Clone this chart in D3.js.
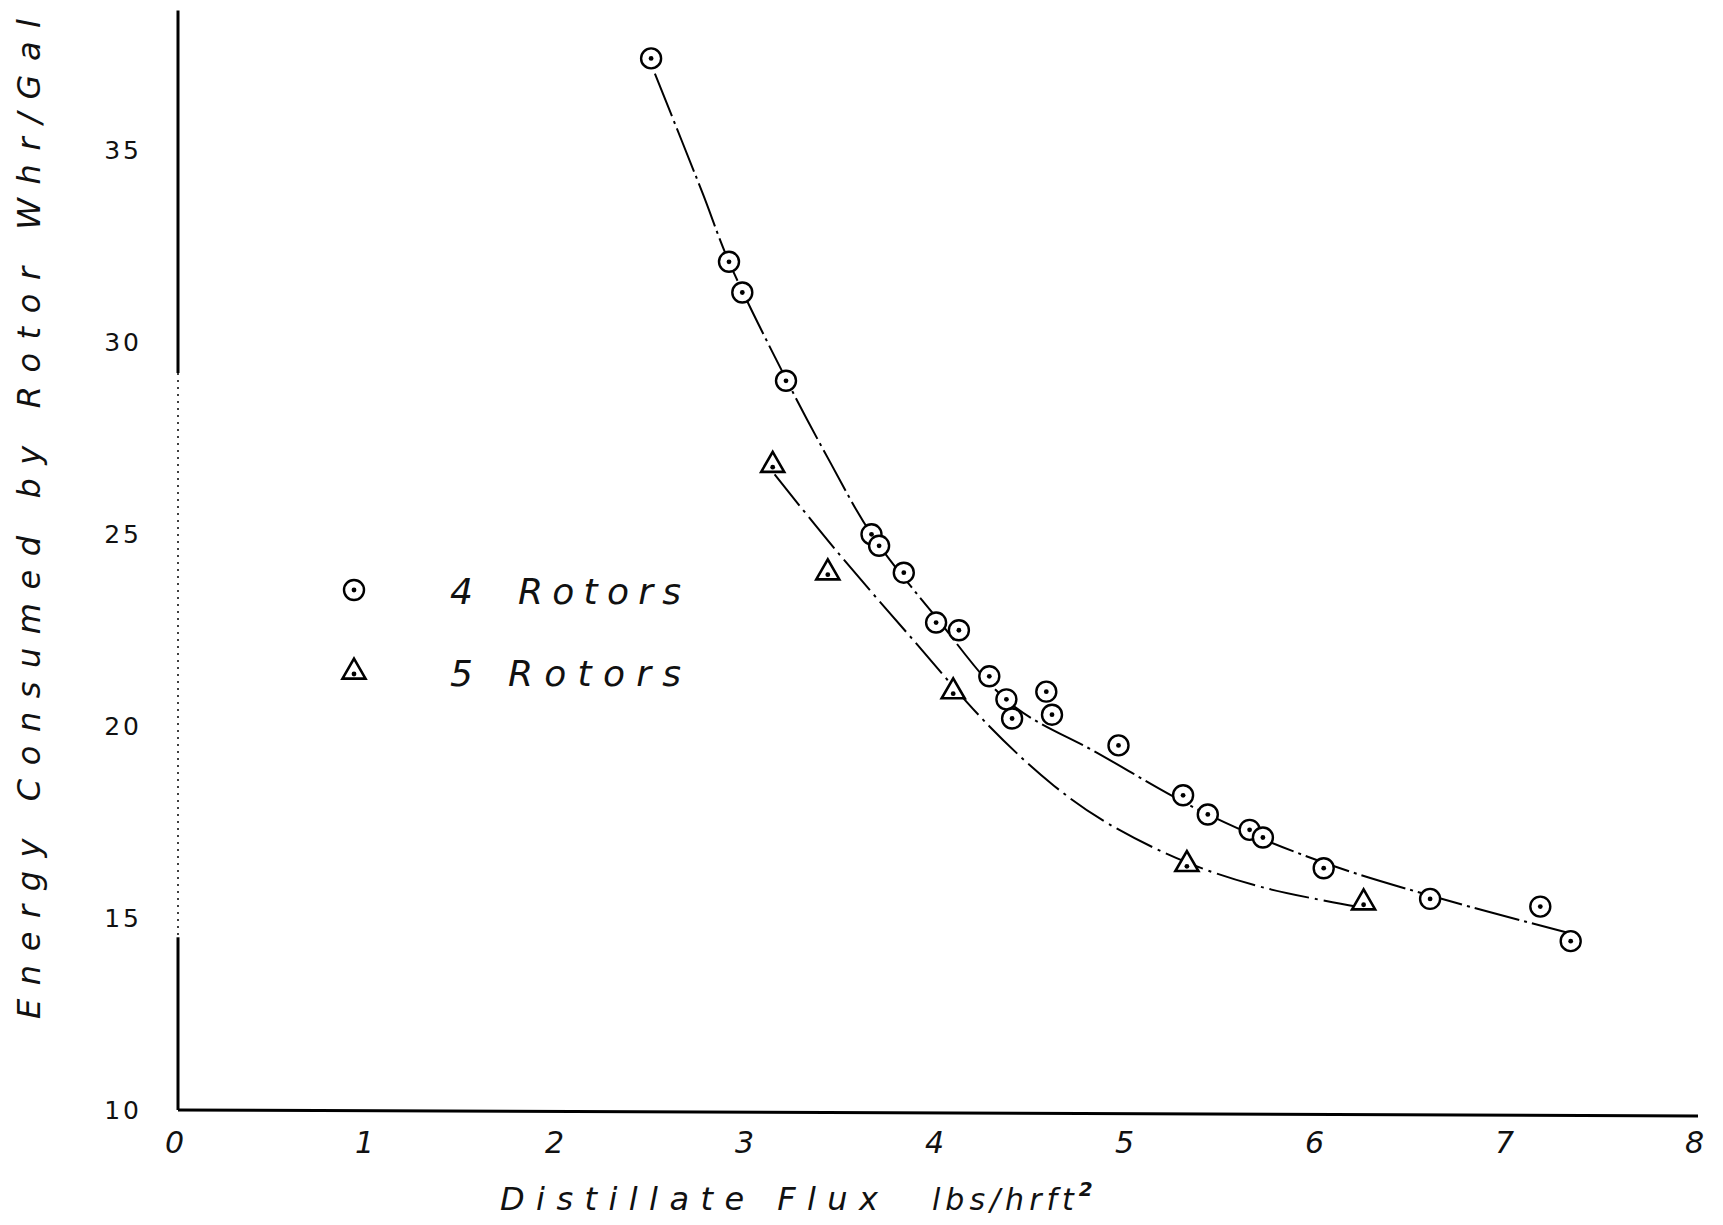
<!DOCTYPE html>
<html>
<head>
<meta charset="utf-8">
<script src="https://cdn.jsdelivr.net/npm/d3@7"></script>
<style>
    body { margin: 0; background: #fff; }
    text { fill: #111; font-family: "DejaVu Sans", sans-serif; }
</style>
</head>
<body>
<div id="graphDiv"></div>
<script>

// measured points, 4 rotors (circle with dot)
var flux4   = [2.49, 2.90, 2.97, 3.20, 3.65, 3.69, 3.82, 3.99, 4.11, 4.27, 4.36, 4.39, 4.57, 4.60, 4.95, 5.29, 5.42, 5.64, 5.71, 6.03, 6.59, 7.17, 7.33];
var energy4 = [37.4, 32.1, 31.3, 29.0, 25.0, 24.7, 24.0, 22.7, 22.5, 21.3, 20.7, 20.2, 20.9, 20.3, 19.5, 18.2, 17.7, 17.3, 17.1, 16.3, 15.5, 15.3, 14.4];

// measured points, 5 rotors (triangle)
var flux5   = [3.13, 3.42, 4.08, 5.31, 6.24];
var energy5 = [26.8, 24.0, 20.9, 16.4, 15.4];

// hand drawn curves through the points
var curveFlux4   = [2.51, 2.76, 2.90, 3.20, 3.43, 3.65, 3.98, 4.38, 4.84, 5.42, 6.00, 6.58, 7.33];
var curveEnergy4 = [37.0, 33.9, 32.1, 29.05, 26.9, 25.0, 22.9, 20.6, 19.3, 17.7, 16.5, 15.6, 14.6];
var curveFlux5   = [3.14, 3.46, 3.86, 4.27, 4.61, 4.90, 5.31, 5.71, 6.20];
var curveEnergy5 = [26.56, 24.6, 22.3, 20.0, 18.45, 17.45, 16.45, 15.8, 15.3];

// axes
var xTicks = [0, 1, 2, 3, 4, 5, 6, 7, 8];
var yTicks = [10, 15, 20, 25, 30, 35];
var yTop = 38.65;

var legendLabels = ["4", "5"];

var W = 1723, H = 1225;

var svg = d3.select("#graphDiv").append("svg")
    .attr("width", W)
    .attr("height", H)
    .style("background", "#fff");

// Scales
var x = d3.scaleLinear().domain([0, 8]).range([178, 1698]);
var y = d3.scaleLinear().domain([10, 35]).range([1110, 150.5]);

// y axis line: solid, dotted middle, solid
svg.append("line")
    .attr("x1", x(0)).attr("x2", x(0))
    .attr("y1", y(yTop)).attr("y2", y(29.2))
    .attr("stroke", "#000").attr("stroke-width", 3);
svg.append("line")
    .attr("x1", x(0)).attr("x2", x(0))
    .attr("y1", y(29.2)).attr("y2", y(14.5))
    .attr("stroke", "#000").attr("stroke-width", 1.5)
    .attr("stroke-dasharray", "2,5");
svg.append("line")
    .attr("x1", x(0)).attr("x2", x(0))
    .attr("y1", y(14.5)).attr("y2", y(10))
    .attr("stroke", "#000").attr("stroke-width", 3);

// x axis line
svg.append("line")
    .attr("x1", x(0)).attr("x2", x(8))
    .attr("y1", y(10)).attr("y2", y(10) + 6)
    .attr("stroke", "#000").attr("stroke-width", 3);

// tick labels (no tick marks)
var xAxis = svg.append("g")
    .attr("transform", "translate(0," + y(10) + ")")
    .call(d3.axisBottom(x).tickValues(xTicks).tickSize(0).tickPadding(22).tickFormat(d3.format("d")));
xAxis.select(".domain").remove();
xAxis.selectAll("text")
    .style("font-family", "DejaVu Sans")
    .style("font-style", "italic")
    .style("font-size", "30px")
    .attr("dx", -4);

var yAxis = svg.append("g")
    .attr("transform", "translate(" + x(0) + ",0)")
    .call(d3.axisLeft(y).tickValues(yTicks).tickSize(0).tickPadding(36).tickFormat(d3.format("d")));
yAxis.select(".domain").remove();
yAxis.selectAll("text")
    .style("font-family", "DejaVu Sans")
    .style("font-size", "25px")
    .style("letter-spacing", "3px");

// axis titles
svg.append("text")
    .attr("transform", "translate(40," + 519 + ") rotate(-90)")
    .attr("text-anchor", "middle")
    .attr("textLength", 1000)
    .attr("lengthAdjust", "spacing")
    .style("font-size", "32px")
    .style("font-style", "italic")
    .text("Energy Consumed by Rotor  Whr/Gal");

svg.append("text")
    .attr("x", 500).attr("y", 1210)
    .attr("textLength", 378)
    .attr("lengthAdjust", "spacing")
    .style("font-size", "32px")
    .style("font-style", "italic")
    .text("Distillate Flux");

var unit = svg.append("text")
    .attr("x", 932).attr("y", 1210)
    .style("font-size", "30px")
    .style("font-style", "italic")
    .style("letter-spacing", "5px");
unit.append("tspan").text("lbs/hrft");
unit.append("tspan").attr("dy", -14).style("font-size", "20px").style("font-weight", "bold").text("2");

// fitted curves
var line = d3.line()
    .x(function (d) { return x(d[0]) })
    .y(function (d) { return y(d[1]) })
    .curve(d3.curveCatmullRom);

svg.append("path")
    .datum(d3.zip(curveFlux4, curveEnergy4))
    .attr("d", line)
    .attr("fill", "none")
    .attr("stroke", "#000")
    .attr("stroke-width", 2)
    .attr("stroke-dasharray", "46,5,3,5");

svg.append("path")
    .datum(d3.zip(curveFlux5, curveEnergy5))
    .attr("d", line)
    .attr("fill", "none")
    .attr("stroke", "#000")
    .attr("stroke-width", 2)
    .attr("stroke-dasharray", "40,6,3,6");

// markers
function circleMark(g) {
    g.append("circle").attr("r", 10).attr("fill", "#fff").attr("stroke", "#000").attr("stroke-width", 2.4);
    g.append("circle").attr("r", 2.4).attr("fill", "#000");
}
function triMark(g) {
    g.append("path").attr("d", d3.symbol().type(d3.symbolTriangle).size(230))
        .attr("fill", "#fff").attr("stroke", "#000").attr("stroke-width", 2.6);
    g.append("circle").attr("r", 2.4).attr("cy", 2).attr("fill", "#000");
}

svg.selectAll(".pt4")
    .data(d3.zip(flux4, energy4))
    .enter().append("g")
    .attr("class", "pt4")
    .attr("transform", function (d) { return "translate(" + x(d[0]) + "," + y(d[1]) + ")" })
    .each(function () { circleMark(d3.select(this)) });

svg.selectAll(".pt5")
    .data(d3.zip(flux5, energy5))
    .enter().append("g")
    .attr("class", "pt5")
    .attr("transform", function (d) { return "translate(" + x(d[0]) + "," + y(d[1]) + ")" })
    .each(function () { triMark(d3.select(this)) });

// legend
var legend = svg.append("g");
var rows = legend.selectAll("g")
    .data(legendLabels)
    .enter().append("g")
    .attr("transform", function (d, i) { return "translate(354," + (590 + i * 82) + ")" });
rows.each(function (d, i) {
    var g = d3.select(this);
    if (i == 0) circleMark(g); else triMark(g);
    g.append("text").attr("x", 96).attr("y", 14)
        .style("font-size", "36px").style("font-style", "italic")
        .text(d);
    g.append("text").attr("x", i == 0 ? 164 : 154).attr("y", 14)
        .attr("textLength", i == 0 ? 163 : 173)
        .attr("lengthAdjust", "spacing")
        .style("font-size", "36px").style("font-style", "italic")
        .text("Rotors");
});

</script>
</body>
</html>
